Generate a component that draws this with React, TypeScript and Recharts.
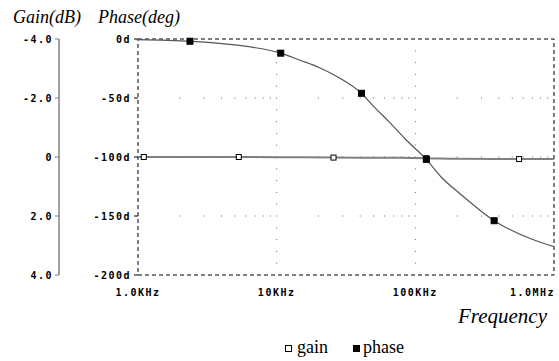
import React from 'react';
import {
  LineChart,
  Line,
  XAxis,
  YAxis,
  ReferenceArea,
  ReferenceDot,
} from 'recharts';

/* ------------------------------------------------------------------ */
/*  Data                                           */
/* ------------------------------------------------------------------ */

const phaseFreqs = [1000, 2370, 5000, 10700, 14600, 20400, 28400, 40900, 49000, 65000, 86000, 120000, 156000, 207000, 370000, 695000, 1000000];
const phaseValues = [-0.5, -1.9, -5, -12, -17.8, -24.3, -33, -46, -56, -70.5, -85.6, -102, -117.8, -130.5, -154, -169.7, -176];
const phaseMarkerFreqs = [2370, 10700, 40900, 120000, 370000];

const gainFreqs = [1000, 1100, 5330, 10000, 25700, 60000, 120000, 200000, 560000, 1000000];
const gainValues = [0, 0, 0, 0.005, 0.02, 0.025, 0.04, 0.06, 0.07, 0.07];
const gainMarkerFreqs = [1100, 5330, 25700, 120000, 560000];

const freqTicks = [1000, 10000, 100000, 1000000];
const freqTickLabels = ['1.0KHz', '10KHz', '100KHz', '1.0MHz'];
const phaseTicks = [-200, -150, -100, -50, 0];
const gainTicks = [-4, -2, 0, 2, 4];

// grid dots: minor frequencies on horizontal lines, 10deg steps on vertical lines
const minorFreqs = [
  2000, 3000, 4000, 5000, 6000, 7000, 8000, 9000,
  20000, 30000, 40000, 50000, 60000, 70000, 80000, 90000,
  200000, 300000, 400000, 500000, 600000, 700000, 800000, 900000,
];
const gridPhases = [-50, -100, -150];
const gridDecades = [10000, 100000];
const minorPhases = [-10, -20, -30, -40, -50, -60, -70, -80, -90, -100, -110, -120, -130, -140, -150, -160, -170, -180, -190];

/* ------------------------------------------------------------------ */

const MONO = "'DejaVu Sans Mono', monospace";
const SERIF = "'Liberation Serif', 'Times New Roman', serif";
const GRAY = '#808080';
const PHASE_ID = 'a_phase'; // inner axis, next to the plot
const GAIN_ID = 'b_gain'; // outer axis

const phaseData = phaseFreqs.map((f, i) => ({ f, v: phaseValues[i], m: phaseMarkerFreqs.includes(f) }));
const gainData = gainFreqs.map((f, i) => ({ f, v: gainValues[i], m: gainMarkerFreqs.includes(f) }));

const squareDot = (filled: boolean, size: number) => (props: any) => {
  const { cx, cy, payload, index } = props;
  if (!payload?.m) return <g key={`d${index}`} />;
  return (
    <rect
      key={`d${index}`}
      x={cx - size / 2}
      y={cy - size / 2}
      width={size}
      height={size}
      fill={filled ? '#000' : '#fff'}
      stroke="#000"
      strokeWidth={1}
    />
  );
};

const gridDot = (p: any) => (
  <rect x={p.cx - 0.5} y={p.cy - 0.5} width={1} height={1} fill="#666" />
);

function FreqTick(props: any) {
  const { x, y, payload, index } = props;
  const last = index === freqTicks.length - 1;
  const label = freqTickLabels[freqTicks.indexOf(payload.value)] ?? '';
  return (
    <text
      x={last ? x + 1 : x}
      y={y}
      dy="0.71em"
      textAnchor={last ? 'end' : 'middle'}
      fontFamily={MONO}
      fontWeight="bold"
      fontSize={10}
      letterSpacing={1.5}
      fill="#000"
    >
      {label}
    </text>
  );
}

const tickStyle = { fontFamily: MONO, fontWeight: 'bold', fontSize: 10, letterSpacing: 1.5, fill: '#000' } as any;

export default function App() {
  return (
    <div
      style={{
        position: 'absolute',
        left: 0,
        top: 0,
        width: 559,
        height: 361,
        overflow: 'hidden',
        background: '#fff',
      }}
    >
      <LineChart
        width={559}
        height={361}
        margin={{ top: 39, right: 5, bottom: 66, left: 10 }}
      >
        <XAxis
          dataKey="f"
          type="number"
          scale="log"
          domain={[1000, 1000000]}
          ticks={freqTicks}
          interval={0}
          allowDataOverflow
          height={20}
          axisLine={false}
          tickLine={false}
          tickSize={4}
          tickMargin={10}
          tick={<FreqTick />}
        />
        <YAxis
          yAxisId={PHASE_ID}
          type="number"
          domain={[-200, 0]}
          ticks={phaseTicks}
          interval={0}
          width={79}
          axisLine={false}
          tickLine={{ stroke: '#000' }}
          tickSize={4}
          tickMargin={3}
          tick={tickStyle}
          tickFormatter={(v: number) => `${v}d`}
        />
        <YAxis
          yAxisId={GAIN_ID}
          type="number"
          domain={[-4, 4]}
          reversed
          ticks={gainTicks}
          interval={0}
          width={49}
          axisLine={{ stroke: GRAY, strokeWidth: 1.5 }}
          tickLine={{ stroke: GRAY }}
          tickSize={4}
          tickMargin={2}
          tick={tickStyle}
          tickFormatter={(v: number) => (v === 0 ? '0' : v.toFixed(1))}
        />

        {/* dotted grid */}
        {gridPhases.map((p) =>
          minorFreqs.map((f) => (
            <ReferenceDot key={`h${p}-${f}`} x={f} y={p} yAxisId={PHASE_ID} r={1} shape={gridDot} />
          ))
        )}
        {gridDecades.map((f) =>
          minorPhases.map((p) => (
            <ReferenceDot key={`v${f}-${p}`} x={f} y={p} yAxisId={PHASE_ID} r={1} shape={gridDot} />
          ))
        )}

        {/* dashed plot border */}
        <ReferenceArea
          x1={1000}
          x2={1000000}
          y1={-200}
          y2={0}
          yAxisId={PHASE_ID}
          fill="none"
          fillOpacity={0}
          stroke="#000"
          strokeDasharray="4 3"
          strokeWidth={1}
        />

        <Line
          data={gainData}
          dataKey="v"
          yAxisId={GAIN_ID}
          type="monotone"
          stroke={GRAY}
          strokeWidth={2}
          dot={squareDot(false, 5)}
          activeDot={false}
          isAnimationActive={false}
        />
        <Line
          data={phaseData}
          dataKey="v"
          yAxisId={PHASE_ID}
          type="monotone"
          stroke="#555"
          strokeWidth={1.2}
          dot={squareDot(true, 6)}
          activeDot={false}
          isAnimationActive={false}
        />
      </LineChart>

      <svg
        width={559}
        height={361}
        style={{ position: 'absolute', left: 0, top: 0, pointerEvents: 'none' }}
      >
        <text x={13} y={23} fontFamily={SERIF} fontStyle="italic" fontSize={18} fill="#000">
          Gain(dB)
        </text>
        <text x={98} y={23} fontFamily={SERIF} fontStyle="italic" fontSize={18} fill="#000">
          Phase(deg)
        </text>
        <text x={547} y={323} textAnchor="end" fontFamily={SERIF} fontStyle="italic" fontSize={21} fill="#000">
          Frequency
        </text>
        <rect x={285.5} y={345.5} width={6} height={6} fill="#fff" stroke="#000" strokeWidth={1} />
        <text x={297} y={353} fontFamily={SERIF} fontSize={18} fill="#000">
          gain
        </text>
        <rect x={353} y={345} width={7} height={7} fill="#000" />
        <text x={363} y={353} fontFamily={SERIF} fontSize={18} fill="#000">
          phase
        </text>
      </svg>
    </div>
  );
}
